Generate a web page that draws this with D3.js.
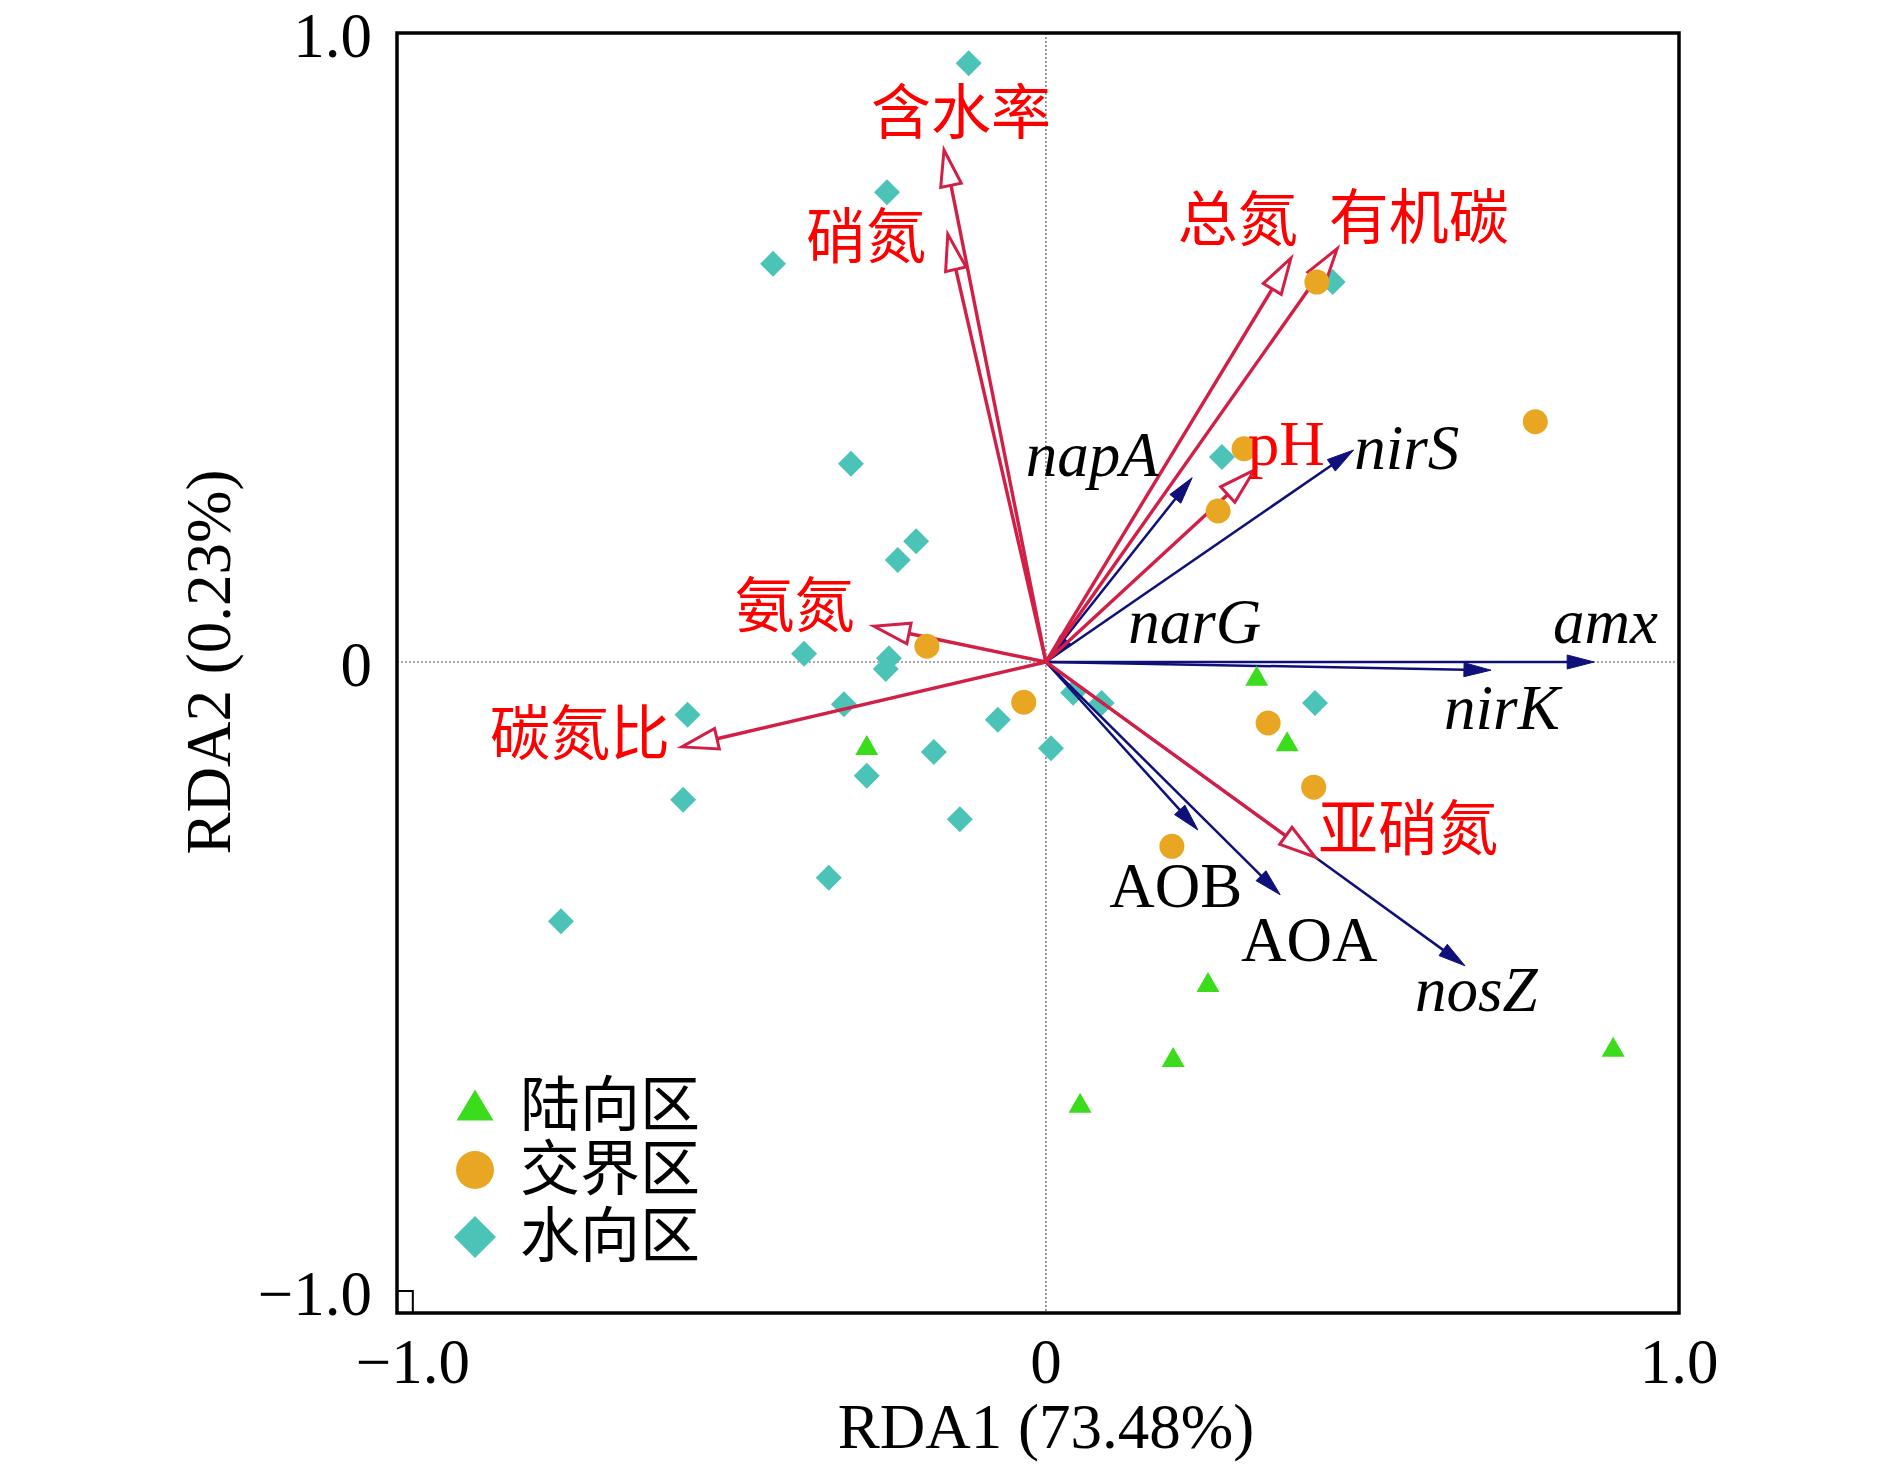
<!DOCTYPE html>
<html>
<head>
<meta charset="utf-8">
<script src="https://cdn.jsdelivr.net/npm/d3@7"></script>
<style>
  body { margin: 0; background: #fff; }
  text { font-family: "Liberation Serif", "Noto Sans CJK SC", serif; }
</style>
</head>
<body>
<div id="chart"></div>
<script>
// 样点得分（RDA1, RDA2）
const landPts = [[0.333, -0.025], [0.381, -0.129], [-0.283, -0.135], [0.256, -0.512],
  [0.201, -0.631], [0.896, -0.615], [0.054, -0.704]];
const interPts = [[0.428, 0.604], [0.313, 0.339], [0.272, 0.240], [0.773, 0.382],
  [-0.188, 0.025], [-0.035, -0.064], [0.351, -0.097], [0.423, -0.199], [0.199, -0.293]];
const waterPts = [[-0.122, 0.952], [-0.251, 0.747], [-0.431, 0.633], [-0.308, 0.315],
  [-0.205, 0.192], [-0.234, 0.162], [-0.382, 0.013], [-0.248, 0.006], [-0.253, -0.011],
  [-0.319, -0.067], [-0.566, -0.084], [-0.076, -0.092], [-0.177, -0.143], [-0.283, -0.181],
  [0.008, -0.137], [-0.573, -0.219], [-0.136, -0.250], [-0.343, -0.343], [-0.766, -0.412],
  [0.043, -0.049], [0.088, -0.065], [0.278, 0.326], [0.453, 0.604], [0.425, -0.065]];

// 环境因子箭头
const envNames = ['含水率', '硝氮', '总氮', '有机碳', 'pH', '氨氮', '碳氮比', '亚硝氮'];
const envX = [-0.161, -0.155, 0.387, 0.460, 0.329, -0.272, -0.575, 0.425];
const envY = [0.814, 0.680, 0.642, 0.657, 0.305, 0.057, -0.135, -0.310];

// 功能基因箭头
const geneNames = ['amx', 'nirK', 'nosZ', 'AOA', 'AOB', 'napA', 'nirS', 'narG'];
const geneX = [0.866, 0.703, 0.662, 0.370, 0.240, 0.231, 0.486, 0.030];
const geneY = [0.000, -0.013, -0.483, -0.370, -0.267, 0.293, 0.337, 0.034];

const tickValues = [-1, 0, 1];
const tickLabels = ['\u22121.0', '0', '1.0'];
const groupNames = ['陆向区', '交界区', '水向区'];
const xTitle = 'RDA1 (73.48%)';
const yTitle = 'RDA2 (0.23%)';

// 标签位置（数据坐标）
const envLabelAt = {
  '含水率': [-0.134, 0.871], '硝氮': [-0.284, 0.674], '总氮': [0.303, 0.701],
  '有机碳': [0.589, 0.704], 'pH': [0.319, 0.313], '氨氮': [-0.397, 0.087],
  '碳氮比': [-0.736, -0.116], '亚硝氮': [0.572, -0.267]
};
const geneLabelAt = {
  napA: [-0.032, 0.296], nirS: [0.487, 0.307], narG: [0.130, 0.030], amx: [0.801, 0.030],
  nirK: [0.629, -0.107], AOB: [0.100, -0.390], AOA: [0.308, -0.475], nosZ: [0.583, -0.555]
};

const W = 1890, H = 1467;
const RED = '#d11f45', NAVY = '#10107a';
const COL = { land: '#3bdc1c', inter: '#e9a623', water: '#4cc3b7' };

const x = d3.scaleLinear().domain([-1.025, 1.0]).range([397, 1679]);
const y = d3.scaleLinear().domain([-1.035, 1.0]).range([1313, 33]);

const svg = d3.select('#chart').append('svg')
  .attr('width', W).attr('height', H);
svg.append('rect').attr('width', W).attr('height', H).attr('fill', '#fff');

// 零线
svg.append('line')
  .attr('x1', x(0)).attr('x2', x(0)).attr('y1', y(1.0)).attr('y2', y(-1.035))
  .attr('stroke', '#555').attr('stroke-width', 1.2).attr('stroke-dasharray', '2,2');
svg.append('line')
  .attr('x1', x(-1.025)).attr('x2', x(1.0)).attr('y1', y(0)).attr('y2', y(0))
  .attr('stroke', '#555').attr('stroke-width', 1.2).attr('stroke-dasharray', '2,2');

// 符号
const diamond = (cx, cy, r) => `M${cx},${cy - r}L${cx + r},${cy}L${cx},${cy + r}L${cx - r},${cy}Z`;
const triangle = (cx, cy, w, h) => `M${cx},${cy - h * 0.6}L${cx + w / 2},${cy + h * 0.4}L${cx - w / 2},${cy + h * 0.4}Z`;

svg.append('g').selectAll('path').data(waterPts).join('path')
  .attr('d', d => diamond(x(d[0]), y(d[1]), 13))
  .attr('fill', COL.water);

// 箭头
function arrow(g, x0, y0, x1, y1, o) {
  const dx = x1 - x0, dy = y1 - y0;
  const len = Math.hypot(dx, dy);
  const ux = dx / len, uy = dy / len;
  const bx = x1 - ux * o.head, by = y1 - uy * o.head;
  const nx = -uy * o.half, ny = ux * o.half;
  g.append('line')
    .attr('x1', x0).attr('y1', y0)
    .attr('x2', o.hollow ? bx : x1 - ux * o.head * 0.5)
    .attr('y2', o.hollow ? by : y1 - uy * o.head * 0.5)
    .attr('stroke', o.color).attr('stroke-width', o.width);
  g.append('path')
    .attr('d', `M${x1},${y1}L${bx + nx},${by + ny}L${bx - nx},${by - ny}Z`)
    .attr('fill', o.hollow ? '#fff' : o.color)
    .attr('stroke', o.color).attr('stroke-width', o.hollow ? 3 : 1)
    .attr('stroke-linejoin', 'miter');
}

const geneG = svg.append('g');
geneNames.forEach((n, i) => {
  const opt = { color: NAVY, width: 2.5, head: 27, half: 7, hollow: false };
  if (Math.hypot(geneX[i], geneY[i]) < 0.1) {
    // 很短的箭头，箭头朝向原点绘出
    arrow(geneG, x(geneX[i]), y(geneY[i]), x(geneX[i] * 0.1), y(geneY[i] * 0.1), opt);
  } else {
    arrow(geneG, x(0), y(0), x(geneX[i]), y(geneY[i]), opt);
  }
});

const envG = svg.append('g');
envNames.forEach((n, i) => {
  arrow(envG, x(0), y(0), x(envX[i]), y(envY[i]),
    { color: RED, width: 3.4, head: 36, half: 10.5, hollow: true });
});

svg.append('g').selectAll('circle').data(interPts).join('circle')
  .attr('cx', d => x(d[0])).attr('cy', d => y(d[1])).attr('r', 12.5)
  .attr('fill', COL.inter);

svg.append('g').selectAll('path').data(landPts).join('path')
  .attr('d', d => triangle(x(d[0]), y(d[1]), 23, 20))
  .attr('fill', COL.land);

// 标签
svg.append('g').selectAll('text').data(envNames).join('text')
  .attr('x', d => x(envLabelAt[d][0])).attr('y', d => y(envLabelAt[d][1]))
  .attr('text-anchor', d => d === 'pH' ? 'start' : 'middle')
  .attr('dominant-baseline', d => d === 'pH' ? 'alphabetic' : 'central')
  .attr('font-size', d => d === 'pH' ? 63 : 60)
  .attr('fill', '#ff0000')
  .text(d => d);

svg.append('g').selectAll('text').data(geneNames).join('text')
  .attr('x', d => x(geneLabelAt[d][0])).attr('y', d => y(geneLabelAt[d][1]))
  .attr('font-size', 63)
  .attr('font-style', d => d.startsWith('AO') ? 'normal' : 'italic')
  .attr('fill', '#000')
  .text(d => d);

// 边框
svg.append('rect')
  .attr('x', x(-1.025)).attr('y', y(1.0))
  .attr('width', x(1.0) - x(-1.025)).attr('height', y(-1.035) - y(1.0))
  .attr('fill', 'none').attr('stroke', '#000').attr('stroke-width', 3.5);
svg.append('rect')
  .attr('x', x(-1.025)).attr('y', y(-1.0))
  .attr('width', x(-1.0) - x(-1.025)).attr('height', y(-1.035) - y(-1.0))
  .attr('fill', 'none').attr('stroke', '#000').attr('stroke-width', 2);

// 刻度标签
svg.append('g').selectAll('text').data(tickValues).join('text')
  .attr('x', d => x(d)).attr('y', 1383)
  .attr('text-anchor', 'middle').attr('font-size', 63)
  .text((d, i) => tickLabels[i]);
svg.append('g').selectAll('text').data(tickValues).join('text')
  .attr('x', 372).attr('y', d => y(d) + 24)
  .attr('text-anchor', 'end').attr('font-size', 63)
  .text((d, i) => tickLabels[i]);

svg.append('text')
  .attr('x', x(0)).attr('y', 1448)
  .attr('text-anchor', 'middle').attr('font-size', 63)
  .text(xTitle);
svg.append('text')
  .attr('transform', `translate(230,${y(0)}) rotate(-90)`)
  .attr('text-anchor', 'middle').attr('font-size', 63)
  .text(yTitle);

// 图例
const legendRows = [1106, 1170, 1237];
const legend = svg.append('g');
groupNames.forEach((n, i) => {
  const cy = legendRows[i], cx = 475;
  if (i === 0) legend.append('path').attr('d', triangle(cx, cy + 2, 37, 31)).attr('fill', COL.land);
  if (i === 1) legend.append('circle').attr('cx', cx).attr('cy', cy).attr('r', 19).attr('fill', COL.inter);
  if (i === 2) legend.append('path').attr('d', diamond(cx, cy, 21)).attr('fill', COL.water);
  legend.append('text')
    .attr('x', 520).attr('y', cy)
    .attr('dominant-baseline', 'central').attr('font-size', 60)
    .text(n);
});
</script>
</body>
</html>
